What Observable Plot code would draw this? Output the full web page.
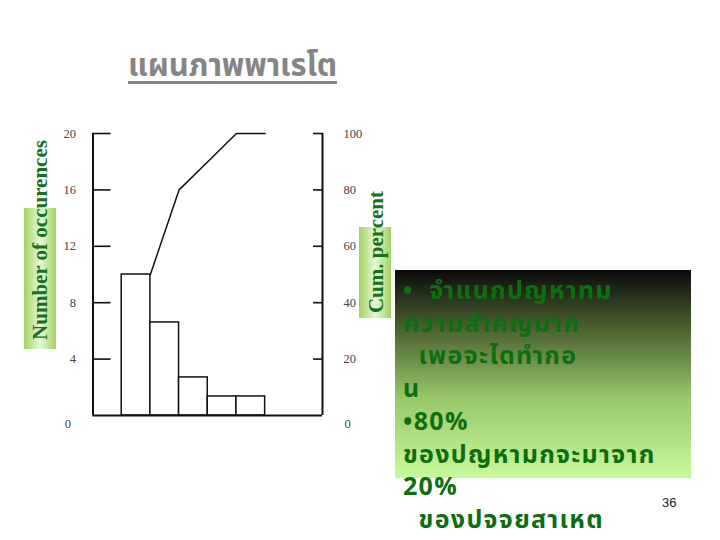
<!DOCTYPE html>
<html>
<head>
<meta charset="utf-8">
<script src="https://cdn.jsdelivr.net/npm/d3@7"></script>
<script src="https://cdn.jsdelivr.net/npm/@observablehq/plot@0.6"></script>
<style>
  html, body { margin: 0; padding: 0; background: #fff; }
  #page { position: relative; width: 720px; height: 540px; overflow: hidden; background: #fff; }
  #chart { position: absolute; left: 0; top: 0; }
  .abs { position: absolute; }
  .thai { font-family: "Tahoma", "Noto Sans Thai", "Loma", "Garuda", "Norasi", "DejaVu Sans", sans-serif; }
  #title { left: 128px; top: 43px; font-size: 31px; font-weight: bold; letter-spacing: -0.1px; color: #858585; text-decoration: underline; text-underline-offset: 5px; text-decoration-thickness: 3px; white-space: nowrap; }
  .ylabBox { background: linear-gradient(to right, #9fd35f 0%, #e8f7d8 50%, #9fd35f 100%); }
  .ylab { font-family: "Liberation Serif", "Times New Roman", serif; font-weight: bold; font-size: 21px; color: #17701a; white-space: nowrap; transform: translate(-50%, -50%) rotate(-90deg); }
  #note { left: 395px; top: 270px; width: 296px; height: 208px; background: linear-gradient(to bottom, #0a0a0a 0%, #4f6733 30%, #99c86c 62%, #c9f99d 100%); }
  #noteText { left: 403px; top: 275px; font-size: 25px; font-weight: bold; letter-spacing: 1.3px; line-height: 32.7px; color: #0d6e10; white-space: pre; }
  #pageno { left: 662px; top: 495px; font-family: "Liberation Sans", Arial, sans-serif; font-size: 13px; color: #222; }
</style>
</head>
<body>
<div id="page">
  <div id="chart"></div>
  <div id="title" class="abs thai">แผนภาพพาเรโต</div>
  <div class="abs ylabBox" style="left:24px;top:208px;width:32px;height:141px;"></div>
  <div class="abs ylab" style="left:40px;top:240px;">Number of occurences</div>
  <div class="abs ylabBox" style="left:359px;top:227px;width:32px;height:91px;"></div>
  <div class="abs ylab" style="left:376px;top:252px;">Cum. percent</div>
  <div id="note" class="abs"></div>
  <div id="noteText" class="abs thai"></div>
  <div id="pageno" class="abs">36</div>
</div>
<script>
// ---- data ----
const barStart = [1, 2, 3, 4, 5];          // category slots (left edge)
const barEnd   = [2, 3, 4, 5, 6];          // category slots (right edge)
const counts   = [10, 6.6, 2.7, 1.35, 1.35]; // number of occurences
const cumX       = [2, 3, 4, 5, 6];        // cumulative line at right edges of bars
const cumPercent = [50, 80, 90, 100, 100]; // cum. percent
const leftTicks  = [4, 8, 12, 16, 20];
const rightTicks = [20, 40, 60, 80, 100];
const noteLines = [
  "•  จำแนกปญหาทม",
  "ความสำคญมาก",
  "  เพอจะไดทำกอ",
  "น",
  "•80%",
  "ของปญหามกจะมาจาก",
  "20%",
  "  ของปจจยสาเหต"
];

const bars = counts.map((c, i) => ({x1: barStart[i], x2: barEnd[i], y: c}));
const cum = cumPercent.map((p, i) => ({x: cumX[i], pct: p}));
const pctToCount = p => p / 5; // 100% <-> 20 occurences

const chart = Plot.plot({
  width: 720,
  height: 540,
  marginLeft: 92.5,
  marginRight: 398,
  marginTop: 133,
  marginBottom: 125,
  x: {domain: [0, 8], axis: null},
  y: {domain: [0, 20], axis: null},
  style: {fontFamily: "'Liberation Serif', 'Times New Roman', serif", fontSize: "12.5px", color: "#333", background: "transparent"},
  marks: [
    Plot.rectY(bars, {x1: "x1", x2: "x2", y: "y", fill: "#fff", stroke: "#111", strokeWidth: 1.5}),
    Plot.line(cum, {x: "x", y: d => pctToCount(d.pct), stroke: "#111", strokeWidth: 1.5}),
    Plot.ruleX([0, 8], {stroke: "#111", strokeWidth: 2}),
    Plot.ruleY([0], {stroke: "#111", strokeWidth: 2}),
    Plot.axisY(leftTicks, {anchor: "left", label: null, tickSize: -18, tickPadding: 35, strokeWidth: 1.6, stroke: "#111", fill: "#444"}),
    Plot.axisY([0], {anchor: "left", label: null, tickSize: 0, tickPadding: 22, dy: 8, fill: "#444"}),
    Plot.axisY(rightTicks.map(pctToCount), {anchor: "right", label: null, tickSize: -10, tickPadding: 31, tickFormat: d => d * 5, textAnchor: "start", strokeWidth: 1.6, stroke: "#111", fill: "#444"}),
    Plot.axisY([0], {anchor: "right", label: null, tickSize: 0, tickPadding: 22, dy: 8, tickFormat: d => d * 5, textAnchor: "start", fill: "#444"})
  ]
});
document.getElementById("chart").appendChild(chart);
document.getElementById("noteText").textContent = noteLines.join("\n");
</script>
</body>
</html>
